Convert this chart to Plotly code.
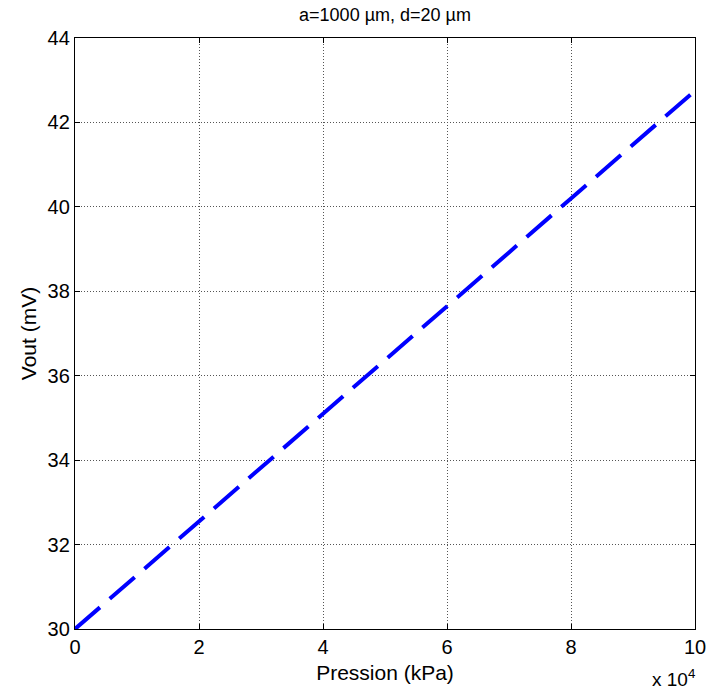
import plotly.graph_objects as go

pressure = [0, 10000, 20000, 30000, 40000, 50000, 60000, 70000, 80000, 90000, 100000]
vout = [30.0, 31.27, 32.55, 33.82, 35.1, 36.37, 37.65, 38.92, 40.2, 41.47, 42.75]
x_tickvals = [0, 20000, 40000, 60000, 80000, 100000]
x_ticktext = ["0", "2", "4", "6", "8", "10"]
y_tickvals = [30, 32, 34, 36, 38, 40, 42, 44]

FONT = "Liberation Sans, Arial"

fig = go.Figure()
fig.add_trace(go.Scatter(
    x=pressure, y=vout, mode="lines",
    line=dict(color="#0000FF", width=4, dash="33px,13px"),
    showlegend=False,
))

axis_common = dict(
    showline=True, linecolor="black", linewidth=1.3, mirror="ticks",
    ticks="inside", ticklen=5, tickcolor="black",
    showgrid=True, gridcolor="#555555", griddash="1px,2px", gridwidth=0.8,
    zeroline=False, automargin=False,
    tickfont=dict(family=FONT, size=20, color="black"),
)

fig.update_layout(
    width=710, height=695,
    margin=dict(l=75, r=15, t=38, b=66),
    paper_bgcolor="white", plot_bgcolor="white",
    title=dict(text="a=1000 µm, d=20 µm", xref="paper", x=0.5, xanchor="center",
               y=1 - 15 / 695, yanchor="middle",
               font=dict(family=FONT, size=18, color="black")),
    xaxis=dict(range=[0, 100000], tickvals=x_tickvals, ticktext=x_ticktext,
               title=dict(text="Pression (kPa)", standoff=8,
                          font=dict(family=FONT, size=21, color="black")),
               **axis_common),
    yaxis=dict(range=[30, 44], tickvals=y_tickvals,
               title=dict(text="Vout (mV)", standoff=5,
                          font=dict(family=FONT, size=21, color="black")),
               **axis_common),
    annotations=[dict(text="x 10<sup>4</sup>", xref="paper", yref="paper",
                      x=(697 - 75) / 620, y=-(664 - 629) / 591,
                      xanchor="right", yanchor="top", showarrow=False,
                      font=dict(family=FONT, size=19, color="black"))],
)

fig.write_html("out.html")
